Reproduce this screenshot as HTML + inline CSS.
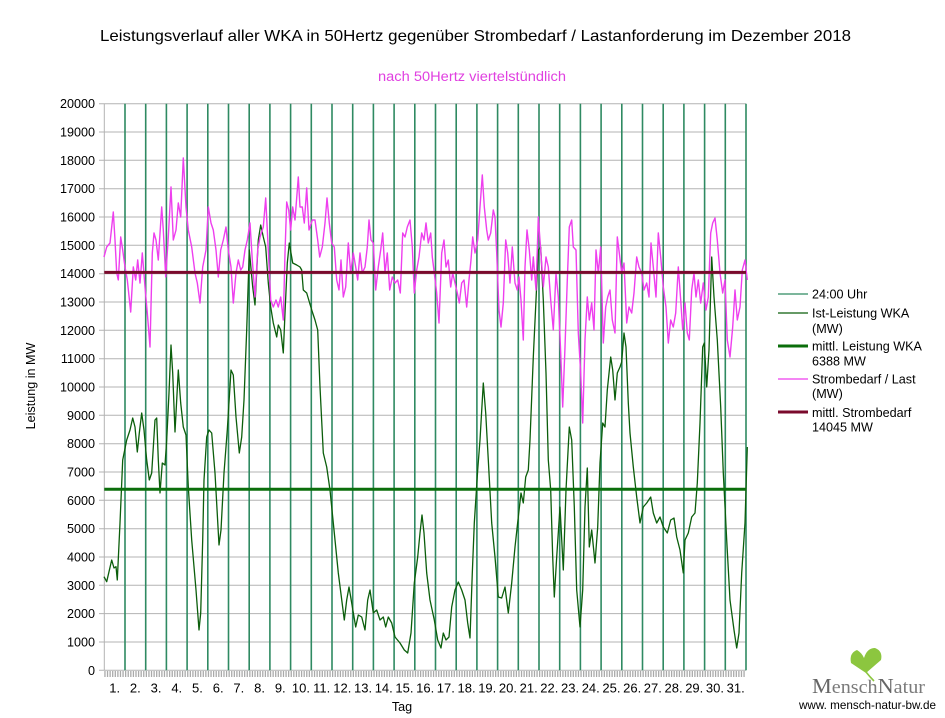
<!DOCTYPE html>
<html>
<head>
<meta charset="utf-8">
<style>
html,body{margin:0;padding:0;background:#fff;}
svg{display:block;}
text{font-family:"Liberation Sans",Arial,sans-serif;}
</style>
</head>
<body>
<svg width="945" height="718" viewBox="0 0 945 718" xmlns="http://www.w3.org/2000/svg">
<rect width="945" height="718" fill="#fff"/>

<!-- Titles -->
<text x="100" y="41" font-size="16" fill="#000" textLength="751" lengthAdjust="spacingAndGlyphs">Leistungsverlauf aller WKA in 50Hertz gegenüber  Strombedarf / Lastanforderung im Dezember 2018</text>
<text x="378" y="81" font-size="13.5" fill="#e040e0" textLength="188" lengthAdjust="spacingAndGlyphs">nach 50Hertz viertelstündlich</text>

<!-- Horizontal grid -->
<g stroke="#b3b3b3" stroke-width="1">
<line x1="99" y1="670.3" x2="746" y2="670.3"/>
<line x1="99" y1="642.0" x2="746" y2="642.0"/>
<line x1="99" y1="613.6" x2="746" y2="613.6"/>
<line x1="99" y1="585.3" x2="746" y2="585.3"/>
<line x1="99" y1="557.0" x2="746" y2="557.0"/>
<line x1="99" y1="528.7" x2="746" y2="528.7"/>
<line x1="99" y1="500.3" x2="746" y2="500.3"/>
<line x1="99" y1="472.0" x2="746" y2="472.0"/>
<line x1="99" y1="443.7" x2="746" y2="443.7"/>
<line x1="99" y1="415.3" x2="746" y2="415.3"/>
<line x1="99" y1="387.0" x2="746" y2="387.0"/>
<line x1="99" y1="358.7" x2="746" y2="358.7"/>
<line x1="99" y1="330.3" x2="746" y2="330.3"/>
<line x1="99" y1="302.0" x2="746" y2="302.0"/>
<line x1="99" y1="273.7" x2="746" y2="273.7"/>
<line x1="99" y1="245.3" x2="746" y2="245.3"/>
<line x1="99" y1="217.0" x2="746" y2="217.0"/>
<line x1="99" y1="188.7" x2="746" y2="188.7"/>
<line x1="99" y1="160.3" x2="746" y2="160.3"/>
<line x1="99" y1="132.0" x2="746" y2="132.0"/>
<line x1="99" y1="103.7" x2="746" y2="103.7"/>
<line x1="104.3" y1="103.7" x2="104.3" y2="670.3"/>
</g>

<!-- X tick band -->
<line x1="104.3" y1="674" x2="746" y2="674" stroke="#aaaaaa" stroke-width="6" stroke-dasharray="1.3 1.2875"/>

<!-- Y labels -->
<g font-size="12.6" fill="#000" text-anchor="end">
<text x="95" y="675">0</text>
<text x="95" y="646.5">1000</text>
<text x="95" y="618.1">2000</text>
<text x="95" y="589.8">3000</text>
<text x="95" y="561.5">4000</text>
<text x="95" y="533.2">5000</text>
<text x="95" y="504.8">6000</text>
<text x="95" y="476.5">7000</text>
<text x="95" y="448.2">8000</text>
<text x="95" y="419.8">9000</text>
<text x="95" y="391.5">10000</text>
<text x="95" y="363.2">11000</text>
<text x="95" y="334.8">12000</text>
<text x="95" y="306.5">13000</text>
<text x="95" y="278.2">14000</text>
<text x="95" y="249.8">15000</text>
<text x="95" y="221.5">16000</text>
<text x="95" y="193.2">17000</text>
<text x="95" y="164.8">18000</text>
<text x="95" y="136.5">19000</text>
<text x="95" y="108.2">20000</text>
</g>

<!-- Day labels -->
<g font-size="13" fill="#000" text-anchor="middle">
<text x="114.65" y="692.5">1.</text>
<text x="135.35" y="692.5">2.</text>
<text x="156.05" y="692.5">3.</text>
<text x="176.75" y="692.5">4.</text>
<text x="197.45" y="692.5">5.</text>
<text x="218.15" y="692.5">6.</text>
<text x="238.85" y="692.5">7.</text>
<text x="259.55" y="692.5">8.</text>
<text x="280.25" y="692.5">9.</text>
<text x="300.95" y="692.5">10.</text>
<text x="321.65" y="692.5">11.</text>
<text x="342.35" y="692.5">12.</text>
<text x="363.05" y="692.5">13.</text>
<text x="383.75" y="692.5">14.</text>
<text x="404.45" y="692.5">15.</text>
<text x="425.15" y="692.5">16.</text>
<text x="445.85" y="692.5">17.</text>
<text x="466.55" y="692.5">18.</text>
<text x="487.25" y="692.5">19.</text>
<text x="507.95" y="692.5">20.</text>
<text x="528.65" y="692.5">21.</text>
<text x="549.35" y="692.5">22.</text>
<text x="570.05" y="692.5">23.</text>
<text x="590.75" y="692.5">24.</text>
<text x="611.45" y="692.5">25.</text>
<text x="632.15" y="692.5">26.</text>
<text x="652.85" y="692.5">27.</text>
<text x="673.55" y="692.5">28.</text>
<text x="694.25" y="692.5">29.</text>
<text x="714.95" y="692.5">30.</text>
<text x="735.65" y="692.5">31.</text>
</g>

<!-- Axis titles -->
<text x="402" y="711" font-size="12.6" fill="#000" text-anchor="middle">Tag</text>
<text transform="translate(35,386) rotate(-90)" font-size="12.6" fill="#000" text-anchor="middle">Leistung in MW</text>

<!-- Day separator lines (24:00 Uhr) -->
<path stroke="#2f8a62" stroke-width="1.6" fill="none" d="M125.0 103.7V670.3M145.7 103.7V670.3M166.4 103.7V670.3M187.1 103.7V670.3M207.8 103.7V670.3M228.5 103.7V670.3M249.2 103.7V670.3M269.9 103.7V670.3M290.6 103.7V670.3M311.3 103.7V670.3M332.0 103.7V670.3M352.7 103.7V670.3M373.4 103.7V670.3M394.1 103.7V670.3M414.8 103.7V670.3M435.5 103.7V670.3M456.2 103.7V670.3M476.9 103.7V670.3M497.6 103.7V670.3M518.3 103.7V670.3M539.0 103.7V670.3M559.7 103.7V670.3M580.4 103.7V670.3M601.1 103.7V670.3M621.8 103.7V670.3M642.5 103.7V670.3M663.2 103.7V670.3M683.9 103.7V670.3M704.6 103.7V670.3M725.3 103.7V670.3M746.0 103.7V670.3"/>

<!-- Ist-Leistung WKA -->
<polyline fill="none" stroke="#0b5e0b" stroke-width="1.3" stroke-linejoin="round" points="104,576.7 106.7,581.7 111.7,560 114,568 116,566.7 117.3,580 120,523 122.7,460 126.7,440 130,430 132.7,418 135,427 137.3,452 139.3,433 141.7,413 144,430 146.7,460 149.3,480 151.7,473 155,420 156.7,418 158.3,460 160,493 162.3,463 165,465 166.7,440 169,393 171,345 172.7,373 175,432 178.3,370 180.7,403 183.3,427 186,435 188.3,487 191.7,540 196,590 199,630 200.7,613 202.7,540 204,480 206.7,437 209,430 211.7,433 215,473 219,545 221,530 224,473 227.3,430 231,370 233.3,375 236,417 239.3,453 241.7,437 244,400 246.7,330 249.3,250 252.7,287 255,305 258.3,240 260.7,225 263.3,237 265.7,247 268.3,283 270.7,307 273.3,323 276.7,337 278.3,325 280.7,330 283.3,353 285,313 287.3,263 289.3,243 292.7,263 296.7,265 300,267 301.7,270 303.3,290 306.7,293 311.7,310 315,320 317.7,330 320,387 323.3,453 326.7,467 330,490 333.3,523 338.3,573 344.3,620 346.7,600 349,587 351.7,603 355.7,627 358.3,615 361.7,617 365,630 367.7,600 370,590 373.3,613 376.7,610 380,620 383.3,617 385.7,627 388.3,617 391.7,623 395,637 400,643 404.3,650 407.7,653 411,633 414.3,583 417.7,557 420,533 422,515 424,533 426.7,573 430,600 434.3,620 437.7,640 441,648 443.3,633 446,640 449,637 451.7,607 455,590 458.3,582 461.7,590 465,600 467.7,623 470,638 472.3,573 474.3,523 477.7,470 480,440 483.3,383 485.7,413 488.3,460 491.7,523 495,557 498.3,597 501.7,598 505,587 508.3,613 511.7,583 515,547 518.3,517 521,493 523.3,503 525.7,477 528.3,470 530,440 533.3,357 536,300 538.3,250 540.7,247 543.3,300 546,373 548.3,460 550.7,490 552.7,557 554.3,597 556.7,557 560,507 563.3,570 566,490 569.3,427 571.7,440 574.3,507 576.7,590 580,627 582.7,590 585,507 587.3,468 589.3,547 591.7,530 595,563 597.7,527 600,463 602.7,423 605,427 607.3,390 610.7,357 612.7,370 615,400 617.3,373 620,367 621.7,362 624,333 626,347 628.3,403 630,433 633.3,467 636.7,497 640,523 643.3,507 646.7,503 650.7,497 653.3,513 656.7,523 660,517 663.3,527 667.3,533 670.7,520 674,518 676.7,537 680,550 683.3,573 685,540 688.3,533 691.7,517 695,513 697.3,483 700,423 702.7,347 704.3,343 706.7,387 709,350 711.7,257 714,297 717.3,340 720.7,407 723.3,473 726.7,540 730,600 734,630 736.7,648 739,633 741.7,573 745,523 747.3,447"/>

<!-- Strombedarf / Last -->
<polyline fill="none" stroke="#ee3fee" stroke-width="1.4" stroke-linejoin="round" points="104,257 106.7,247 110,243 113.3,212 115,240 116.7,273 118.3,280 120.7,237 122.7,250 125,267 127.3,280 130.7,312 133.3,267 135.7,280 137.7,260 140,283 142.3,253 145,287 147.3,313 150,347 152.3,253 154,233 156,240 158.3,260 161.7,207 163.3,230 165.7,277 168.3,237 171,187 173.3,240 176,230 178.3,203 180.7,217 183.3,158 186,207 188.3,230 191.7,247 195,273 197.3,283 200,303 202.7,267 206,250 208.3,207 211,223 213.3,230 216,250 218.3,277 220.7,250 223.3,240 226,227 228.3,250 231,267 233.3,303 236,273 238.3,260 240.7,270 242.7,267 245,250 247.3,240 250,223 252.3,260 255,297 257.7,250 260,237 263.3,227 265.7,198 268.3,250 270.7,300 273.3,307 276,300 278.3,307 280.7,297 283.3,320 285,253 286.7,202 288.7,210 290.7,230 292.7,207 295,220 298.3,177 300,207 302.3,207 304.3,223 306.7,188 309,230 312.3,220 315,220 317.7,240 319.7,257 322.3,247 325,223 327,198 329.3,223 331.7,243 334.3,247 336.7,280 339,290 341,260 343.3,297 345.7,287 348.3,243 350.7,273 353.3,253 355.7,267 357.7,280 360,253 362.3,273 365,267 367.3,247 369,220 371,240 373.3,243 375.7,290 378.3,267 380.7,250 382.7,233 385,273 387.3,253 389.7,290 392.3,277 395,283 397.7,280 400.3,293 402.7,233 405,237 407.3,227 410,220 412.3,247 414.3,293 416.7,270 419,257 421.7,233 424,240 426,223 428.3,243 430.7,233 432.3,257 434.3,273 436.7,293 439,323 441.7,253 444,240 446,267 448.3,260 450.7,287 452.7,273 455,283 457.3,293 459.3,303 461.7,283 464,280 466.7,307 469,280 471,260 472.7,237 475,253 477.7,240 480,207 482.3,175 484.3,207 486.7,230 488.3,240 490.7,233 493.3,210 495,217 496.7,253 499,310 501,327 503.3,303 505.7,240 507.7,253 510,283 512.3,247 515,283 517.3,290 519,277 521,300 523.3,340 525,267 527,230 529.3,250 531.7,280 533.3,257 536,290 538.3,217 540.7,250 543.3,287 546,257 548.3,267 550.7,300 553.3,330 556,273 558.3,297 560.7,353 562.7,407 565,347 567.3,280 569.3,227 571.7,220 573.3,247 576,250 578.3,333 580.7,373 582.7,423 585,340 587.3,297 589.3,320 591.7,303 594,330 596,250 598.3,273 600.7,247 603.3,343 605.7,307 607.7,297 610,290 612.3,320 615,333 617.3,237 619.3,253 621.7,273 624,263 626.7,323 629,307 631.7,313 634,293 636.7,257 639,267 641.7,273 644,290 646.7,283 649,297 651,243 653.3,267 656,297 658.3,233 660.7,257 663.3,287 666,307 668.3,343 670.7,320 673.3,327 675.7,313 678.3,267 680.7,300 682.7,330 685,303 687.3,333 689.3,340 691.7,290 694,273 696,297 698.3,280 700.7,303 703.3,283 706,310 708.3,297 710.7,233 712.7,223 715,218 717.3,240 720,273 722.7,293 725,280 727.3,340 730,357 732.7,327 735,290 737.3,320 740,307 742.3,270 745,260 747.3,280"/>

<!-- Mean lines -->
<line x1="104.3" y1="489.3" x2="746" y2="489.3" stroke="#0b6e0b" stroke-width="3"/>
<line x1="104.3" y1="272.4" x2="746" y2="272.4" stroke="#7a0a2c" stroke-width="3"/>

<!-- Legend -->
<g font-size="12.6" fill="#000">
<line x1="778" y1="294" x2="808" y2="294" stroke="#2f8a62" stroke-width="1.2"/>
<text x="812" y="298.5">24:00 Uhr</text>
<line x1="778" y1="313" x2="808" y2="313" stroke="#0b5e0b" stroke-width="1.2"/>
<text x="812" y="317.5">Ist-Leistung WKA</text>
<text x="812" y="333">(MW)</text>
<line x1="778" y1="346" x2="808" y2="346" stroke="#0b6e0b" stroke-width="3"/>
<text x="812" y="350.5">mittl. Leistung WKA</text>
<text x="812" y="365.5">6388 MW</text>
<line x1="778" y1="379" x2="808" y2="379" stroke="#ee3fee" stroke-width="1.2"/>
<text x="812" y="383.5">Strombedarf / Last</text>
<text x="812" y="398">(MW)</text>
<line x1="778" y1="412" x2="808" y2="412" stroke="#7a0a2c" stroke-width="3"/>
<text x="812" y="417">mittl. Strombedarf</text>
<text x="812" y="431.5">14045 MW</text>
</g>

<!-- Logo -->
<g>
<path d="M866 672 Q870 677 874 681" stroke="#8cc63f" stroke-width="1.6" fill="none"/>
<path d="M866 673 L851 663 Q849 653 857 650 Q862 653 864 658 Q867 648 875 648 Q883 651 881 660 Z" fill="#8cc63f"/>
<text x="812" y="693" style="font-family:'Liberation Serif','DejaVu Serif',serif;" font-size="19" fill="#7a7a7a" textLength="113" lengthAdjust="spacingAndGlyphs"><tspan font-size="21" fill="#666">M</tspan>ensch<tspan font-size="21" fill="#666">N</tspan>atur</text>
<text x="799" y="709" font-size="12" fill="#000" textLength="137" lengthAdjust="spacingAndGlyphs">www. mensch-natur-bw.de</text>
</g>
</svg>
</body>
</html>
